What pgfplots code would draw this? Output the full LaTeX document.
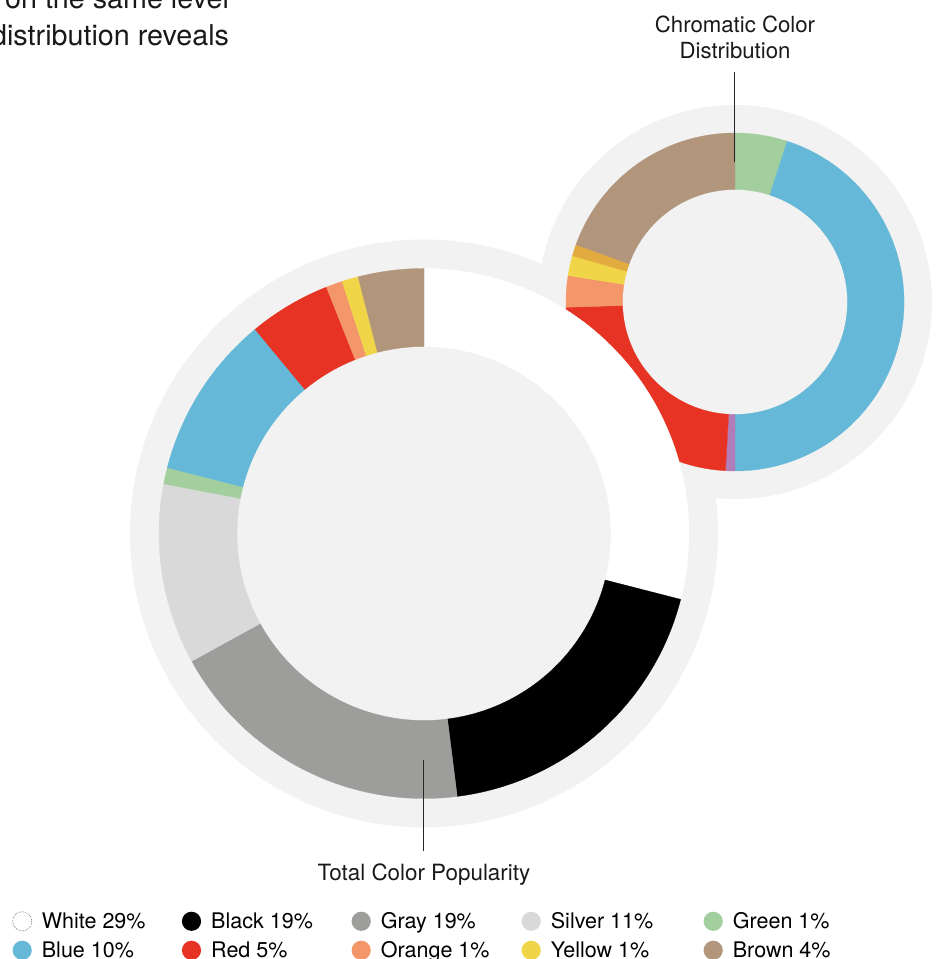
\documentclass[border=0pt]{standalone}
\usepackage{pgfplots}
\pgfplotsset{compat=1.18}
\usepackage{pgfplotstable}
\usepackage{fontspec}
\setmainfont{TeX Gyre Heros}

\definecolor{cbg}{HTML}{F2F2F2}
\definecolor{cblack}{HTML}{000000}
\definecolor{cgray}{HTML}{9D9D9C}
\definecolor{csilver}{HTML}{D9D9D9}
\definecolor{cgreen}{HTML}{A3CF9F}
\definecolor{cblue}{HTML}{65B8D8}
\definecolor{cred}{HTML}{E63323}
\definecolor{corange}{HTML}{F39669}
\definecolor{cyellow}{HTML}{F0D548}
\definecolor{cbrown}{HTML}{B1967B}
\definecolor{cgold}{HTML}{E2AB3F}
\definecolor{cpurple}{HTML}{B07DB8}

% Total color popularity (percent, clockwise from 12 o'clock)
\pgfplotstableread{
label value color
White 29 white
Black 19 cblack
Gray 19 cgray
Silver 11 csilver
Green 1 cgreen
Blue 10 cblue
Red 5 cred
Orange 1 corange
Yellow 1 cyellow
Brown 4 cbrown
}\totaltable

% Chromatic color distribution (percent, clockwise from 12 o'clock)
\pgfplotstableread{
label value color
Green 5.0 cgreen
Blue 45.0 cblue
Purple 0.9 cpurple
Red 23.6 cred
Orange 3.0 corange
Yellow 1.9 cyellow
Gold 1.1 cgold
Brown 19.5 cbrown
}\chromatable

% #1 table, #2 cx, #3 cy, #4 inner radius, #5 outer radius
\newcommand\drawdonut[5]{%
  \gdef\curang{90}%
  \pgfplotstablegetrowsof{#1}%
  \pgfmathtruncatemacro\nrows{\pgfplotsretval-1}%
  \foreach \i in {0,...,\nrows}{%
    \pgfplotstablegetelem{\i}{value}\of#1\let\val\pgfplotsretval
    \pgfplotstablegetelem{\i}{color}\of#1\let\col\pgfplotsretval
    \pgfmathsetmacro\newang{\curang-3.6*\val}%
    \path[fill=\col, draw=\col, line width=0.3bp]
      ([shift={(\curang:#5)}]axis cs:#2,#3)
      arc[start angle=\curang, end angle=\newang, radius=#5]
      -- ([shift={(\newang:#4)}]axis cs:#2,#3)
      arc[start angle=\newang, end angle=\curang, radius=#4] -- cycle;
    \xdef\curang{\newang}%
  }%
}

\begin{document}
\begin{tikzpicture}
\begin{axis}[
  x=1bp, y=1bp, xmin=0, xmax=941, ymin=0, ymax=959,
  hide axis, clip=false,
  legend columns=5,
  legend cell align=left,
  legend style={at={(axis cs:12.3,47.7)}, anchor=north west, draw=none, fill=none,
    inner sep=0pt, outer sep=0pt, column sep=0pt, row sep=9bp,
    font=\fontsize{21.5bp}{24bp}\selectfont,
    nodes={inner sep=0pt, text height=15.4bp, text depth=0pt}},
  legend image code/.code={%
    \path[draw=none, fill=none] (0,-10bp) rectangle (29.4bp,10bp);
    \path[#1] (9.7bp,0) circle[radius=9.6bp];},
]
% background discs and donuts
\pgfplotsextra{%
  \path[fill=cbg] (axis cs:424,425.5) circle[radius=294bp];
  \path[fill=cbg] (axis cs:735,657) circle[radius=197bp];
  \drawdonut{\chromatable}{735}{657}{112.5bp}{169bp}%
  \drawdonut{\totaltable}{424}{425.5}{187bp}{265bp}%
}
% label leader lines
\addplot[black!85, line width=1.3bp, forget plot] coordinates {(734.5,887) (734.5,797)};
\addplot[black!85, line width=1.3bp, forget plot] coordinates {(423.5,198.5) (423.5,108)};

\addlegendimage{fill=white, draw=black!65, densely dotted, line width=0.6bp}
\addlegendentry{\makebox[139.9bp][l]{White 29\%}}
\addlegendimage{fill=cblack, draw=none}
\addlegendentry{\makebox[140.3bp][l]{Black 19\%}}
\addlegendimage{fill=cgray, draw=none}
\addlegendentry{\makebox[140.6bp][l]{Gray 19\%}}
\addlegendimage{fill=csilver, draw=none}
\addlegendentry{\makebox[152.6bp][l]{Silver 11\%}}
\addlegendimage{fill=cgreen, draw=none}
\addlegendentry{Green 1\%}
\addlegendimage{fill=cblue, draw=none}
\addlegendentry{\makebox[139.9bp][l]{Blue 10\%}}
\addlegendimage{fill=cred, draw=none}
\addlegendentry{\makebox[140.3bp][l]{Red 5\%}}
\addlegendimage{fill=corange, draw=none}
\addlegendentry{\makebox[140.6bp][l]{Orange 1\%}}
\addlegendimage{fill=cyellow, draw=none}
\addlegendentry{\makebox[152.6bp][l]{Yellow 1\%}}
\addlegendimage{fill=cbrown, draw=none}
\addlegendentry{Brown 4\%}

% texts
\node[anchor=base, font=\fontsize{22.2bp}{26bp}\selectfont, text=black!90] at (axis cs:735,926) {Chromatic Color};
\node[anchor=base, font=\fontsize{22.2bp}{26bp}\selectfont, text=black!90] at (axis cs:735,900) {Distribution};
\node[anchor=base, font=\fontsize{22.4bp}{26bp}\selectfont, text=black!90] at (axis cs:424,78) {Total Color Popularity};
\node[anchor=base east, font=\fontsize{28.7bp}{34bp}\selectfont, text=black!90] at (axis cs:232.5,950.5) {on the same level};
\node[anchor=base east, font=\fontsize{28.7bp}{34bp}\selectfont, text=black!90] at (axis cs:232.5,913) {distribution reveals};
\end{axis}
\pgfresetboundingbox
\path[use as bounding box] (current axis.south west) rectangle (current axis.north east);
\end{tikzpicture}
\end{document}
